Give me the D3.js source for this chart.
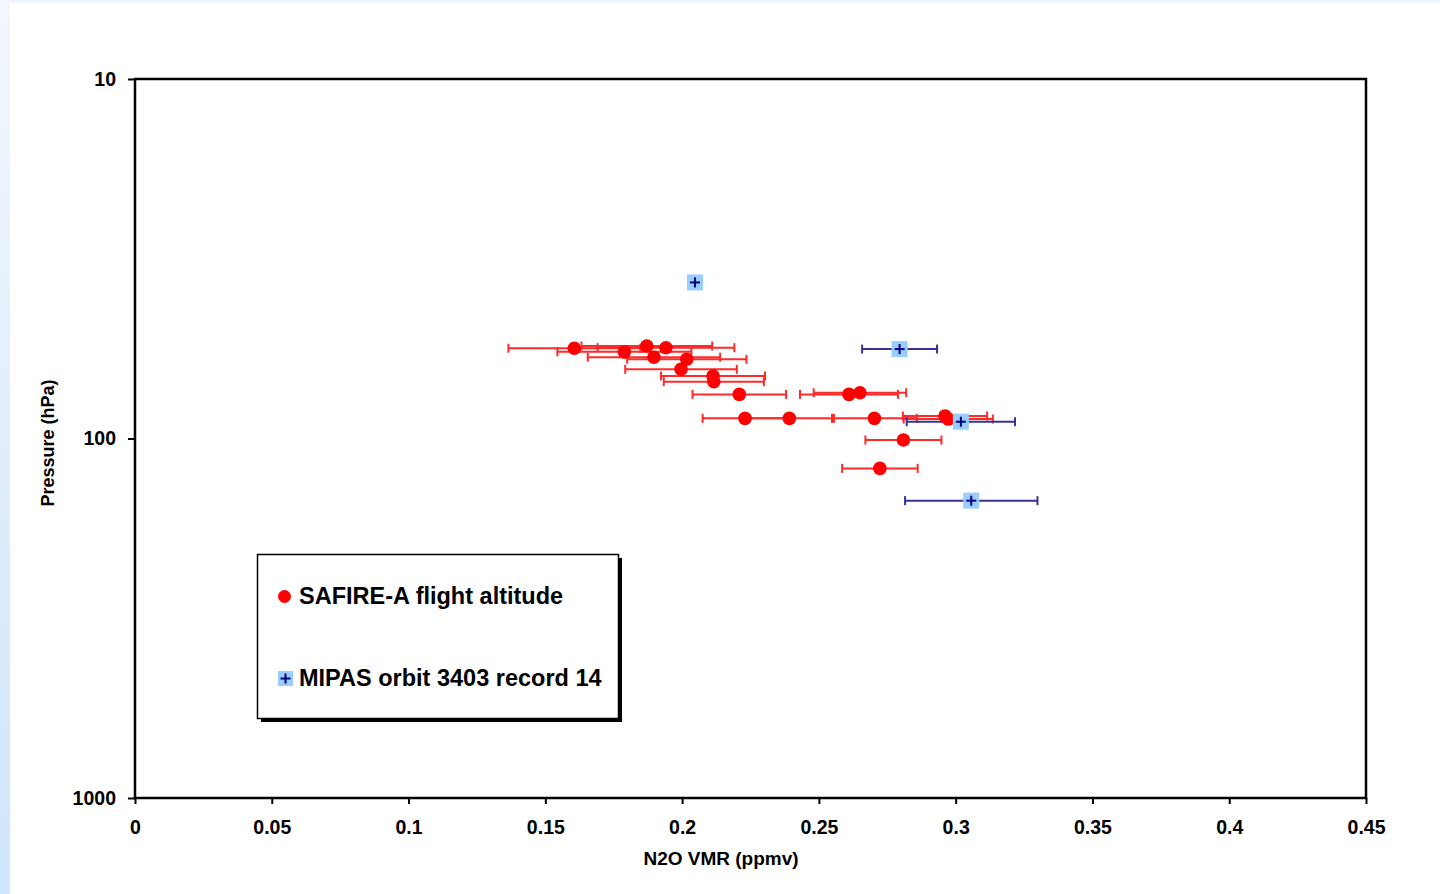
<!DOCTYPE html>
<html>
<head>
<meta charset="utf-8">
<script src="https://cdn.jsdelivr.net/npm/d3@7"></script>
<style>
  html, body { margin: 0; padding: 0; background: #ffffff; }
  svg { display: block; }
  text { font-family: "Liberation Sans", Arial, sans-serif; font-weight: bold; fill: #000; }
</style>
</head>
<body>
<svg id="chart" width="1440" height="894"></svg>
<script>
// ---- data ----
const xTickValues = [0, 0.05, 0.1, 0.15, 0.2, 0.25, 0.3, 0.35, 0.4, 0.45];
const xTickLabels = ["0", "0.05", "0.1", "0.15", "0.2", "0.25", "0.3", "0.35", "0.4", "0.45"];
const yTickValues = [10, 100, 1000];
const yTickLabels = ["10", "100", "1000"];

// SAFIRE-A flight altitude (N2O VMR ppmv, pressure hPa, +/- error ppmv)
const safireVmr      = [0.1606, 0.1789, 0.1871, 0.1897, 0.1941, 0.2017, 0.1996, 0.2113, 0.2116, 0.2209, 0.2230, 0.2392, 0.2610, 0.2650, 0.2703, 0.2961, 0.2973, 0.2809, 0.2723];
const safirePressure = [56.1, 57.4, 55.3, 59.4, 55.9, 60.2, 64.2, 67.0, 69.5, 75.4, 87.9, 87.9, 75.4, 74.6, 87.9, 86.6, 88.3, 101.0, 121.1];
const safireErr      = [0.0241, 0.0245, 0.0239, 0.0242, 0.0250, 0.0218, 0.0204, 0.0190, 0.0183, 0.0171, 0.0155, 0.0163, 0.0179, 0.0169, 0.0155, 0.0154, 0.0163, 0.0139, 0.0138];

// MIPAS orbit 3403 record 14
const mipasVmr      = [0.2047, 0.2795, 0.3019, 0.3057];
const mipasPressure = [36.8, 56.4, 89.8, 148.9];
const mipasErr      = [0, 0.0137, 0.0198, 0.0242];

const seriesNames = ["SAFIRE-A flight altitude", "MIPAS orbit 3403 record 14"];
const xTitle = "N2O VMR (ppmv)";
const yTitle = "Pressure (hPa)";

// ---- layout ----
const svg = d3.select("#chart");
const plotL = 135, plotR = 1366, plotT = 79, plotB = 798;

// page background strips
const defs = svg.append("defs");
const grad = defs.append("linearGradient").attr("id", "leftGrad")
  .attr("x1", 0).attr("y1", 0).attr("x2", 0).attr("y2", 1);
grad.append("stop").attr("offset", "0%").attr("stop-color", "#f2f7fd");
grad.append("stop").attr("offset", "100%").attr("stop-color", "#cfe5fb");
svg.append("rect").attr("x", 0).attr("y", 0).attr("width", 1440).attr("height", 3).attr("fill", "#eef5fd");
svg.append("rect").attr("x", 0).attr("y", 0).attr("width", 10).attr("height", 894).attr("fill", "url(#leftGrad)");

const x = d3.scaleLinear().domain([0, 0.45]).range([plotL, plotR]);
const y = d3.scaleLog().domain([10, 1000]).range([plotT, plotB]);

// axes
const xAxis = d3.axisBottom(x).tickValues(xTickValues)
  .tickFormat((d, i) => xTickLabels[i]).tickSize(6).tickSizeOuter(0).tickPadding(16);
const yAxis = d3.axisLeft(y).tickValues(yTickValues)
  .tickFormat((d, i) => yTickLabels[i]).tickSize(7).tickSizeOuter(0).tickPadding(12);

const gx = svg.append("g").attr("transform", `translate(0,${plotB})`).call(xAxis);
const gy = svg.append("g").attr("transform", `translate(${plotL},0)`).call(yAxis);
[gx, gy].forEach(g => {
  g.select(".domain").remove();
  g.selectAll(".tick line").attr("stroke", "#000").attr("stroke-width", 2);
  g.selectAll(".tick text").style("font-size", "19.5px").style("font-weight", "bold")
    .style("font-family", '"Liberation Sans", Arial, sans-serif').attr("fill", "#000");
});

// frame
svg.append("rect").attr("x", plotL).attr("y", plotT)
  .attr("width", plotR - plotL).attr("height", plotB - plotT)
  .attr("fill", "none").attr("stroke", "#000").attr("stroke-width", 2.5);

// axis titles
svg.append("text").attr("x", 721).attr("y", 865).attr("text-anchor", "middle")
  .style("font-size", "19px").text(xTitle);
svg.append("text").attr("transform", "translate(54,443) rotate(-90)").attr("text-anchor", "middle")
  .style("font-size", "18px").text(yTitle);

// data tables built from arrays
const safire = safireVmr.map((v, i) => ({ v, p: safirePressure[i], e: safireErr[i] }));
const mipas = mipasVmr.map((v, i) => ({ v, p: mipasPressure[i], e: mipasErr[i] }));

const capH = 4.5;
function errorBars(data, color, cls) {
  const g = svg.append("g").attr("class", cls)
    .attr("stroke", color).attr("stroke-width", 2).attr("fill", "none");
  const withErr = data.filter(d => d.e > 0);
  g.selectAll("line.h").data(withErr).join("line").attr("class", "h")
    .attr("x1", d => x(d.v - d.e)).attr("x2", d => x(d.v + d.e))
    .attr("y1", d => y(d.p)).attr("y2", d => y(d.p));
  g.selectAll("line.cl").data(withErr).join("line").attr("class", "cl")
    .attr("x1", d => x(d.v - d.e)).attr("x2", d => x(d.v - d.e))
    .attr("y1", d => y(d.p) - capH).attr("y2", d => y(d.p) + capH);
  g.selectAll("line.cr").data(withErr).join("line").attr("class", "cr")
    .attr("x1", d => x(d.v + d.e)).attr("x2", d => x(d.v + d.e))
    .attr("y1", d => y(d.p) - capH).attr("y2", d => y(d.p) + capH);
}
errorBars(safire, "#ff2a2a", "safire-err");
errorBars(mipas, "#333399", "mipas-err");

// SAFIRE markers
svg.append("g").selectAll("circle").data(safire).join("circle")
  .attr("cx", d => x(d.v)).attr("cy", d => y(d.p)).attr("r", 6.8).attr("fill", "#ff0000");

// MIPAS markers
function mipasMarker(g, cx, cy, s) {
  g.append("rect").attr("x", cx - s / 2).attr("y", cy - s / 2).attr("width", s).attr("height", s)
    .attr("fill", "#99ccff");
  g.append("line").attr("x1", cx - 5).attr("x2", cx + 5).attr("y1", cy).attr("y2", cy)
    .attr("stroke", "#000080").attr("stroke-width", 2);
  g.append("line").attr("x1", cx).attr("x2", cx).attr("y1", cy - 5).attr("y2", cy + 5)
    .attr("stroke", "#000080").attr("stroke-width", 2);
}
const mg = svg.append("g");
mipas.forEach(d => mipasMarker(mg, x(d.v), y(d.p), 16));

// legend
const lg = svg.append("g");
lg.append("rect").attr("x", 261).attr("y", 558).attr("width", 361).attr("height", 164).attr("fill", "#000");
lg.append("rect").attr("x", 257.5).attr("y", 554.5).attr("width", 361).attr("height", 164)
  .attr("fill", "#fff").attr("stroke", "#000").attr("stroke-width", 1.5);
lg.append("circle").attr("cx", 284.5).attr("cy", 596.5).attr("r", 6.5).attr("fill", "#ff0000");
lg.append("text").attr("x", 299).attr("y", 604).style("font-size", "23.5px").text(seriesNames[0]);
mipasMarker(lg, 285.5, 678.5, 15);
lg.append("text").attr("x", 299).attr("y", 686).style("font-size", "23.5px").text(seriesNames[1]);
</script>
</body>
</html>
